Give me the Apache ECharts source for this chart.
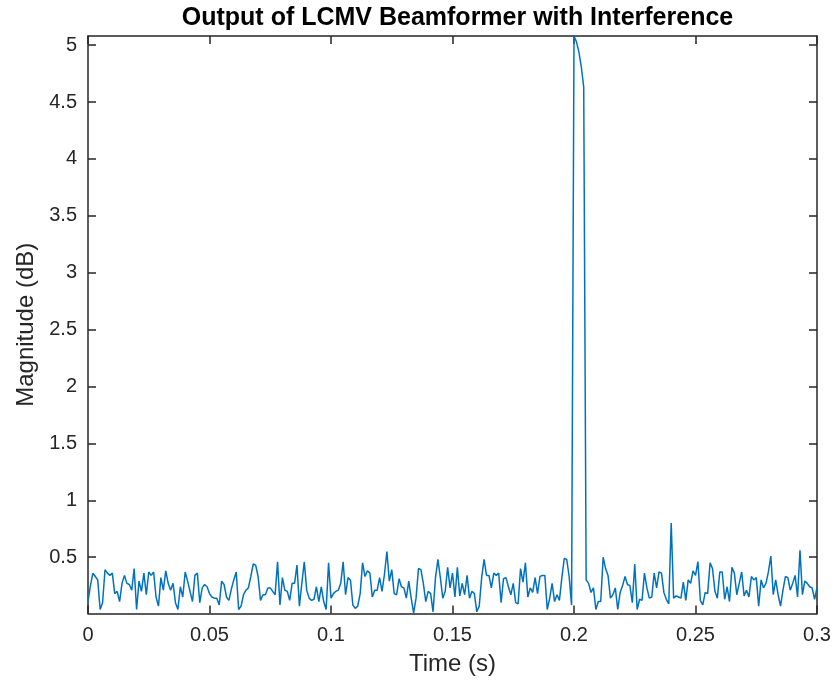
<!DOCTYPE html>
<html>
<head>
<meta charset="utf-8">
<script src="https://cdn.jsdelivr.net/npm/echarts@6/dist/echarts.min.js"></script>
<style>html,body{margin:0;padding:0;background:#fff;}#chart{width:834px;height:684px;}</style>
</head>
<body>
<div id="chart"></div>
<script>
// Chart text
var titleText = 'Output of LCMV Beamformer with Interference';
var xName = 'Time (s)';
var yName = 'Magnitude (dB)';

// Axis ticks
var xTicks = [0, 0.05, 0.1, 0.15, 0.2, 0.25, 0.3];
var yTicks = [0.5, 1, 1.5, 2, 2.5, 3, 3.5, 4, 4.5, 5];
var yRange = [0.005, 5.08];

// Sample period (s)
var samplePeriod = 0.001;

// Output magnitude samples, one per ms, 0 .. 0.3 s
var magnitude = [
0.11,0.25,0.36,0.33,0.30,0.04,0.10,0.39,0.36,0.34,
0.36,0.18,0.20,0.11,0.27,0.34,0.27,0.26,0.21,0.40,
0.04,0.29,0.20,0.36,0.17,0.37,0.34,0.37,0.15,0.07,
0.32,0.21,0.38,0.27,0.21,0.27,0.10,0.04,0.24,0.15,
0.37,0.29,0.20,0.11,0.34,0.36,0.10,0.23,0.26,0.24,
0.18,0.15,0.14,0.14,0.08,0.29,0.26,0.15,0.12,0.22,
0.30,0.37,0.04,0.07,0.17,0.21,0.23,0.33,0.44,0.43,
0.33,0.12,0.17,0.17,0.23,0.23,0.20,0.17,0.46,0.08,
0.32,0.21,0.20,0.12,0.27,0.27,0.43,0.07,0.27,0.46,
0.21,0.14,0.12,0.13,0.24,0.11,0.24,0.11,0.04,0.45,
0.14,0.18,0.20,0.21,0.27,0.46,0.17,0.32,0.30,0.08,
0.05,0.07,0.18,0.45,0.33,0.38,0.36,0.15,0.21,0.21,
0.32,0.20,0.35,0.55,0.29,0.39,0.18,0.17,0.31,0.24,
0.23,0.14,0.29,0.14,0.01,0.14,0.40,0.39,0.27,0.11,
0.20,0.18,0.02,0.32,0.48,0.32,0.14,0.20,0.41,0.23,
0.36,0.15,0.41,0.16,0.27,0.17,0.34,0.14,0.20,0.18,
0.02,0.07,0.32,0.48,0.34,0.34,0.23,0.36,0.34,0.36,
0.10,0.31,0.32,0.24,0.17,0.27,0.10,0.09,0.40,0.28,
0.45,0.15,0.23,0.19,0.32,0.18,0.33,0.34,0.34,0.04,
0.14,0.27,0.11,0.17,0.12,0.32,0.49,0.48,0.33,0.08,
5.08,5.03,4.94,4.81,4.63,0.30,0.27,0.19,0.23,0.04,
0.11,0.11,0.50,0.40,0.34,0.14,0.17,0.23,0.04,0.19,
0.25,0.33,0.26,0.25,0.10,0.44,0.04,0.13,0.12,0.36,
0.23,0.14,0.15,0.36,0.23,0.37,0.36,0.19,0.13,0.09,
0.80,0.14,0.16,0.15,0.14,0.28,0.12,0.30,0.27,0.38,
0.34,0.46,0.12,0.08,0.19,0.18,0.45,0.40,0.20,0.14,
0.37,0.37,0.13,0.24,0.11,0.41,0.36,0.17,0.27,0.37,
0.16,0.21,0.15,0.33,0.30,0.32,0.07,0.30,0.23,0.27,
0.37,0.51,0.17,0.30,0.17,0.07,0.21,0.33,0.32,0.21,
0.27,0.34,0.15,0.56,0.17,0.29,0.27,0.24,0.23,0.13,
0.23
];

var seriesData = magnitude.map(function (v, i) { return [+(i * samplePeriod).toFixed(4), v]; });

var axisColor = '#262626';
var fontFam = '"Liberation Sans", Arial, Helvetica, sans-serif';

function fmt(v) { return String(+v.toFixed(3)); }

var chart = echarts.init(document.getElementById('chart'), null, { renderer: 'canvas' });
chart.setOption({
  animation: false,
  backgroundColor: '#ffffff',
  title: {
    text: titleText,
    left: 452.5,
    textAlign: 'center',
    top: 1,
    textStyle: { fontFamily: fontFam, fontSize: 25, fontWeight: 'bold', color: '#000000' }
  },
  grid: { left: 88, right: 17, top: 36, bottom: 70.5, containLabel: false },
  xAxis: [{
    type: 'value',
    min: 0, max: 0.3, interval: 0.05,
    name: xName, nameLocation: 'middle', nameGap: 39,
    nameTextStyle: { fontFamily: fontFam, fontSize: 24, color: axisColor },
    axisLine: { show: true, onZero: false, lineStyle: { color: axisColor, width: 1.5 } },
    axisTick: { show: true, inside: true, length: 8, lineStyle: { color: axisColor, width: 1.5 }, customValues: xTicks },
    axisLabel: { margin: 12, fontFamily: fontFam, fontSize: 20, color: axisColor, customValues: xTicks, formatter: fmt },
    splitLine: { show: false }
  }, {
    type: 'value', position: 'top',
    min: 0, max: 0.3, interval: 0.05,
    axisLine: { show: true, onZero: false, lineStyle: { color: axisColor, width: 1.5 } },
    axisTick: { show: true, inside: true, length: 8, lineStyle: { color: axisColor, width: 1.5 }, customValues: xTicks },
    axisLabel: { show: false },
    splitLine: { show: false }
  }],
  yAxis: [{
    type: 'value',
    min: yRange[0], max: yRange[1],
    name: yName, nameLocation: 'middle', nameGap: 50, nameRotate: 90,
    nameTextStyle: { fontFamily: fontFam, fontSize: 24, color: axisColor },
    axisLine: { show: true, onZero: false, lineStyle: { color: axisColor, width: 1.5 } },
    axisTick: { show: true, inside: true, length: 8, lineStyle: { color: axisColor, width: 1.5 }, customValues: yTicks },
    axisLabel: { margin: 11, fontFamily: fontFam, fontSize: 20, color: axisColor, customValues: yTicks, formatter: fmt },
    splitLine: { show: false }
  }, {
    type: 'value', position: 'right',
    min: yRange[0], max: yRange[1],
    axisLine: { show: true, onZero: false, lineStyle: { color: axisColor, width: 1.5 } },
    axisTick: { show: true, inside: true, length: 8, lineStyle: { color: axisColor, width: 1.5 }, customValues: yTicks },
    axisLabel: { show: false },
    splitLine: { show: false }
  }],
  series: [{
    type: 'line',
    xAxisIndex: 0, yAxisIndex: 0,
    data: seriesData,
    showSymbol: false,
    symbol: 'none',
    clip: true,
    lineStyle: { color: '#0072BD', width: 1.5 },
    emphasis: { disabled: true }
  }]
});
</script>
</body>
</html>
